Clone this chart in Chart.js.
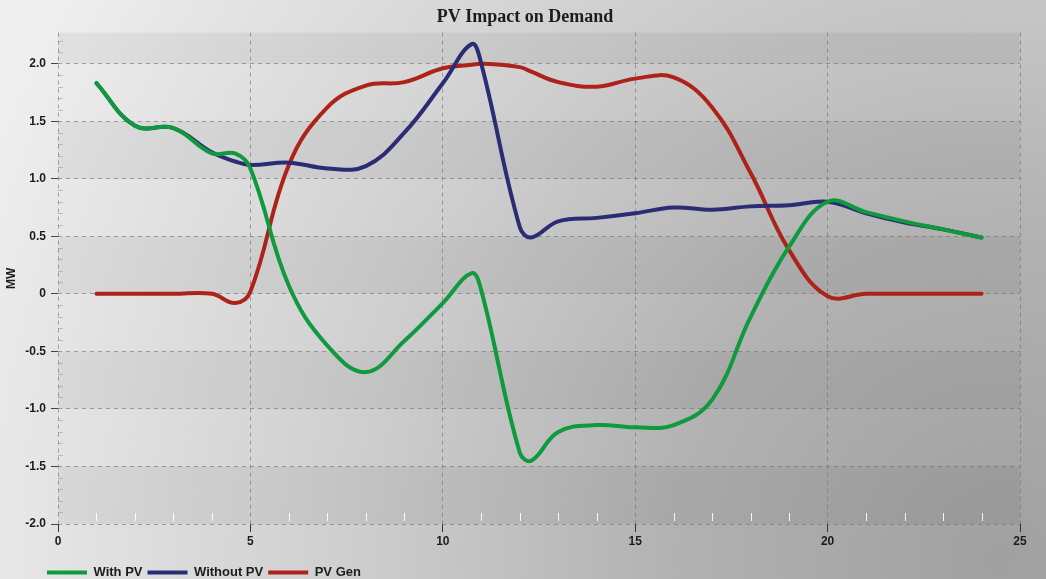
<!DOCTYPE html>
<html>
<head>
<meta charset="utf-8">
<title>PV Impact on Demand</title>
<script src="https://cdn.jsdelivr.net/npm/chart.js@4.4.1/dist/chart.umd.min.js"></script>
<style>
    html, body { margin: 0; padding: 0; background: #e6e6e6; }
    #wrap { width: 1046px; height: 579px; }
</style>
</head>
<body>
<div id="wrap"><canvas id="demandChart" width="1046" height="579"></canvas></div>
<script>
// Hour of day for each reading (a few extra readings where the curves turn sharply)
const hours = [1, 2, 3, 4, 4.6, 5, 6, 7, 8, 9, 10, 10.75, 11, 12, 12.3, 13, 14, 15, 16, 17, 18, 19, 20, 21, 22, 23, 24];

// Demand in MW
const withPV = [1.83, 1.46, 1.44, 1.22, 1.22, 1.09, 0.07, -0.45, -0.68, -0.41, -0.08, 0.18, 0.03, -1.38, -1.45, -1.2, -1.14, -1.16, -1.14, -0.92, -0.2, 0.41, 0.80, 0.71, 0.63, 0.56, 0.49];
const withoutPV = [1.83, 1.46, 1.44, 1.23, 1.15, 1.12, 1.14, 1.09, 1.11, 1.40, 1.83, 2.17, 2.0, 0.58, 0.49, 0.63, 0.66, 0.70, 0.75, 0.73, 0.76, 0.77, 0.80, 0.70, 0.62, 0.56, 0.49];
const pvGen = [0, 0, 0, 0, -0.08, 0.02, 1.12, 1.62, 1.81, 1.84, 1.96, 1.99, 2.0, 1.97, 1.93, 1.84, 1.80, 1.87, 1.88, 1.62, 1.05, 0.38, -0.02, 0, 0, 0, 0];

// Axis ticks
const xTicks = [0, 5, 10, 15, 20, 25];
const yTicks = [-2.0, -1.5, -1.0, -0.5, 0, 0.5, 1.0, 1.5, 2.0];

const seriesNames = ['With PV', 'Without PV', 'PV Gen'];
const seriesColors = ['#0f9a3e', '#2b2c74', '#ad2219'];

const labelFont = { family: "'Liberation Sans', Arial, sans-serif", size: 12, weight: 'bold' };

function toPoints(values) {
    return values.map((v, i) => ({ x: hours[i], y: v }));
}

// Grey shaded background, alternating bands and small minor ticks
const backdropPlugin = {
    id: 'backdrop',
    beforeDraw(chart) {
        const { ctx, width, height, chartArea: a } = chart;
        const y = chart.scales.y;
        ctx.save();
        const g = ctx.createRadialGradient(1000, 560, 0, 1000, 560, 1100);
        g.addColorStop(0, '#a0a0a0');
        g.addColorStop(0.3, '#b2b2b2');
        g.addColorStop(0.6, '#cfcfcf');
        g.addColorStop(1, '#efefef');
        ctx.fillStyle = g;
        ctx.fillRect(0, 0, width, height);

        // darker bands every other half MW
        ctx.fillStyle = 'rgba(0,0,0,0.05)';
        const edges = [-2.0, -1.5, -1.0, -0.5, 0, 0.5, 1.0, 1.5, 2.0, y.max];
        for (let i = 0; i < edges.length - 1; i += 2) {
            const top = y.getPixelForValue(edges[i + 1]);
            const bottom = y.getPixelForValue(edges[i]);
            ctx.fillRect(a.left, top, a.right - a.left, bottom - top);
        }
        ctx.restore();
    },
    beforeDatasetsDraw(chart) {
        const { ctx, chartArea: a } = chart;
        const x = chart.scales.x;
        const y = chart.scales.y;
        ctx.save();
        ctx.lineWidth = 1;
        ctx.strokeStyle = 'rgba(120,120,120,0.4)';
        for (let k = -20; k <= 22; k++) {
            if (k % 5 === 0) continue;
            const py = Math.round(y.getPixelForValue(k / 10)) + 0.5;
            ctx.beginPath();
            ctx.moveTo(a.left, py);
            ctx.lineTo(a.left + 5, py);
            ctx.stroke();
        }
        ctx.strokeStyle = 'rgba(255,255,255,0.9)';
        for (let h = 1; h < 25; h++) {
            if (h % 5 === 0) continue;
            const px = Math.round(x.getPixelForValue(h)) + 0.5;
            ctx.beginPath();
            ctx.moveTo(px, a.bottom - 11);
            ctx.lineTo(px, a.bottom - 3);
            ctx.stroke();
        }
        ctx.restore();
    },
    afterLayout(chart) {
        // legend starts under the plot, title centred on the whole canvas
        chart.legend.left = 42;
        chart.legend.top += 10;
        chart.legend.bottom += 10;
        chart.titleBlock.right += 30;
    }
};

const ctx = document.getElementById('demandChart').getContext('2d');
new Chart(ctx, {
    type: 'line',
    data: {
        datasets: [withPV, withoutPV, pvGen].map((values, i) => ({
            label: seriesNames[i],
            data: toPoints(values),
            borderColor: seriesColors[i],
            backgroundColor: seriesColors[i],
            borderWidth: 4,
            borderCapStyle: 'round',
            borderJoinStyle: 'round',
            pointRadius: 0,
            tension: 0.4,
            fill: false
        }))
    },
    options: {
        responsive: false,
        animation: false,
        layout: { padding: { left: 0, right: 26, top: 0, bottom: 0 } },
        plugins: {
            title: {
                display: true,
                text: 'PV Impact on Demand',
                color: '#1c1c1c',
                font: { family: "'Liberation Serif', 'Times New Roman', serif", size: 18, weight: 'bold' },
                padding: { top: 7, bottom: 4 }
            },
            legend: {
                position: 'bottom',
                align: 'start',
                labels: {
                    usePointStyle: true,
                    pointStyle: 'line',
                    pointStyleWidth: 40,
                    padding: 5,
                    color: '#1c1c1c',
                    font: { family: "'Liberation Sans', Arial, sans-serif", size: 13, weight: 'bold' }
                }
            },
            tooltip: { enabled: false }
        },
        scales: {
            x: {
                type: 'linear',
                min: 0,
                max: 25,
                afterBuildTicks: scale => { scale.ticks = xTicks.map(v => ({ value: v })); },
                afterFit: scale => { scale.height = 27; },
                ticks: { color: '#1c1c1c', padding: 2, font: labelFont },
                grid: {
                    color: 'rgba(110,110,110,0.6)',
                    tickColor: '#333',
                    tickLength: 8,
                    tickBorderDash: []
                },
                border: { display: false, dash: [4, 4] }
            },
            y: {
                min: -2.0,
                max: 2.27,
                afterBuildTicks: scale => { scale.ticks = yTicks.map(v => ({ value: v })); },
                afterFit: scale => { scale.width = 58; },
                title: {
                    display: true,
                    text: 'MW',
                    color: '#1c1c1c',
                    padding: { top: 4, bottom: 0 },
                    font: labelFont
                },
                ticks: {
                    color: '#1c1c1c',
                    padding: 5,
                    callback: v => (v === 0 ? '0' : v.toFixed(1)),
                    font: labelFont
                },
                grid: {
                    color: 'rgba(110,110,110,0.6)',
                    tickColor: '#444',
                    tickLength: 7,
                    tickBorderDash: []
                },
                border: { display: false, dash: [4, 4] }
            }
        }
    },
    plugins: [backdropPlugin]
});
</script>
</body>
</html>
